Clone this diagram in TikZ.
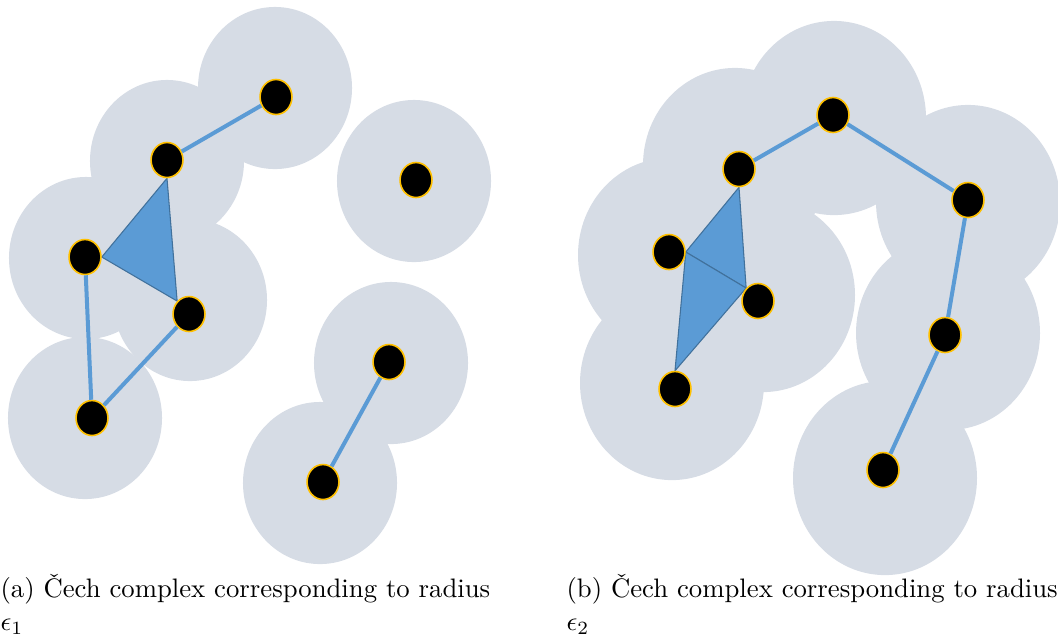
\documentclass[tikz,border=0pt]{standalone}
\usepackage{fontspec}
\usepackage{amsmath}
\usetikzlibrary{shapes.geometric, backgrounds}
\definecolor{ballfill}{HTML}{D6DCE5}
\definecolor{linkblue}{HTML}{5B9BD5}
\definecolor{linkdark}{HTML}{41719C}
\definecolor{ring}{HTML}{FFC000}
\tikzset{
    pt/.style={ellipse, fill=black, draw=ring, line width=0.6pt, inner sep=0pt,
               minimum width=0.42cm, minimum height=0.46cm}, % data points
    link/.style={draw=linkblue, line width=1.5pt}, % 1-simplices
    tri/.style={fill=linkblue, draw=linkdark, line width=0.4pt}, % 2-simplices
    smallball/.style={fill=ballfill, x radius=1.013cm, y radius=1.066cm},
    bigball/.style={fill=ballfill, x radius=1.21cm, y radius=1.277cm},
    captext/.style={anchor=base west, inner sep=0pt},
}

\begin{document}
\begin{tikzpicture}[x=0.01316cm, y=-0.01316cm]
  \useasboundingbox (0,0) rectangle (1058,636);

  % radius epsilon_1
  \node[pt] (n1) at (276,97) {};
  \node[pt] (n2) at (167,160) {};
  \node[pt] (n3) at (85,257) {};
  \node[pt] (n4) at (189,314) {};
  \node[pt] (n5) at (92,418) {};
  \node[pt] (n6) at (389,362) {};
  \node[pt] (n7) at (323,482) {};
  \node[pt] (n8) at (416,180) {};
  \begin{pgfonlayer}{background}
    \foreach \p in {(275,88), (167,161), (86,258), (190,300),
                    (85,418), (320,483), (391,363), (414,181)}
      \fill[smallball] \p ellipse [];
    \draw[tri] (n2.south) -- (n3.east) -- (n4.north west) -- cycle;
  \end{pgfonlayer}
  \draw[link] (n1) -- (n2);
  \draw[link] (n3) -- (n5);
  \draw[link] (n5) -- (n4);
  \draw[link] (n6) -- (n7);

  % radius epsilon_2
  \node[pt] (m1) at (833,115) {};
  \node[pt] (m2) at (739,169) {};
  \node[pt] (m3) at (669,252) {};
  \node[pt] (m4) at (758,301) {};
  \node[pt] (m5) at (675,389) {};
  \node[pt] (m6) at (968,200) {};
  \node[pt] (m7) at (945,335) {};
  \node[pt] (m8) at (883,470) {};
  \begin{pgfonlayer}{background}
    \foreach \p in {(834,118), (735,165), (670,255), (763,295),
                    (672,383), (968,202), (948,333), (885,478)}
      \fill[bigball] \p ellipse [];
    \draw[tri] (m2.south) -- (m3.east) -- (m4.north west) -- cycle;
    \draw[tri] (m3.east) -- (m4.north west) -- (m5.north) -- cycle;
  \end{pgfonlayer}
  \draw[link] (m2) -- (m1);
  \draw[link] (m1) -- (m6);
  \draw[link] (m6) -- (m7);
  \draw[link] (m7) -- (m8);

  \node[captext] (capa) at (0,597) {(a) Čech complex corresponding to radius};
  \node[captext] (epsa) at (0,630) {$\epsilon_1$};
  \node[captext] (capb) at (566,597) {(b) Čech complex corresponding to radius};
  \node[captext] (epsb) at (566,630) {$\epsilon_2$};
\end{tikzpicture}
\end{document}
